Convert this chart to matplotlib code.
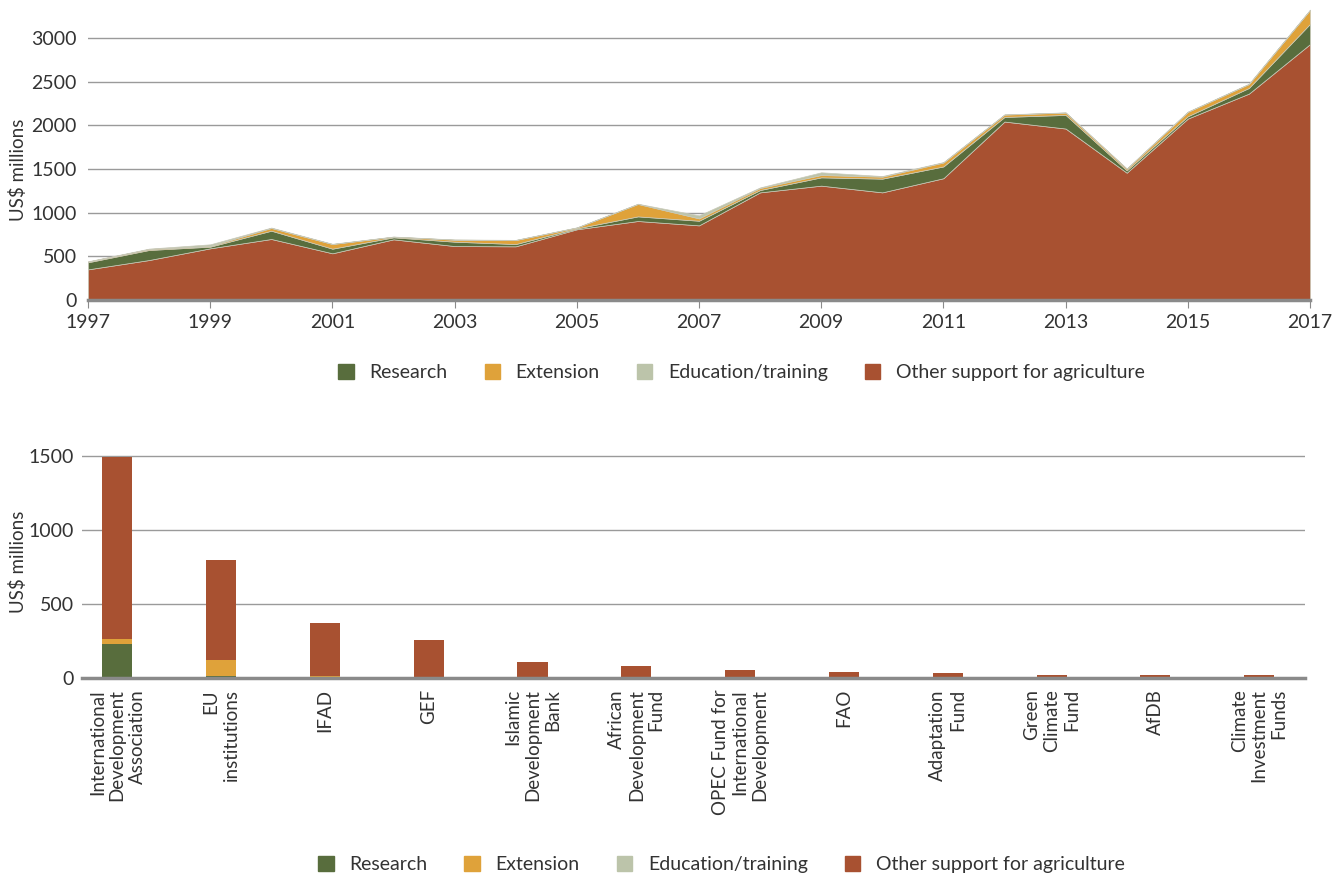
import matplotlib.pyplot as plt
from matplotlib.patches import Patch

plt.rcParams['font.family'] = ['Lato', 'DejaVu Sans']

# Top chart: yearly support by type (US$ millions)
years = list(range(1997, 2018))
other = [351, 458, 592, 699, 535, 695, 618, 615, 810, 905, 855,
         1233, 1310, 1233, 1395, 2044, 1964, 1458, 2078, 2364, 2931]
research = [81, 115, 19, 95, 53, 23, 50, 26, 10, 53, 53,
            27, 95, 157, 135, 53, 156, 27, 27, 65, 232]
extension = [8, 11, 8, 31, 53, 7, 23, 46, 10, 142, 27,
             23, 27, 23, 45, 27, 27, 19, 50, 45, 160]
education = [3, 5, 19, 5, 3, 2, 2, 2, 2, 3, 35,
             7, 31, 7, 5, 2, 2, 2, 3, 3, 3]

# Bottom chart: by institution
institutions = [
    "International\nDevelopment\nAssociation",
    "EU\ninstitutions",
    "IFAD",
    "GEF",
    "Islamic\nDevelopment\nBank",
    "African\nDevelopment\nFund",
    "OPEC Fund for\nInternational\nDevelopment",
    "FAO",
    "Adaptation\nFund",
    "Green\nClimate\nFund",
    "AfDB",
    "Climate\nInvestment\nFunds",
]
inst_research = [228, 11, 0, 0, 0, 0, 0, 0, 0, 0, 0, 0]
inst_extension = [34, 109, 11, 0, 0, 0, 0, 0, 0, 0, 0, 0]
inst_education = [0, 2, 0, 0, 0, 0, 0, 0, 0, 0, 0, 0]
inst_other = [1234, 674, 359, 255, 108, 81, 54, 41, 34, 20, 20, 20]

labels = ["Research", "Extension", "Education/training", "Other support for agriculture"]
c_research = "#586d3d"
c_extension = "#dfa23a"
c_education = "#bcc4aa"
c_other = "#a85131"
grid_c = "#9a9a9a"
text_c = "#333333"

fig = plt.figure(figsize=(13.41, 8.77), dpi=100)

# ---- top area chart
ax1 = fig.add_axes([0.0656, 0.6579, 0.9113, 0.3335])
ax1.stackplot(years, other, research, extension, education,
              colors=[c_other, c_research, c_extension, c_education],
              edgecolor="#c9c9b8", linewidth=0.5)
ax1.set_xlim(1997, 2017)
ax1.set_ylim(0, 3350)
ax1.set_xticks(range(1997, 2018, 2))
ax1.set_yticks(range(0, 3001, 500))
ax1.grid(axis="y", color=grid_c, linewidth=1)
ax1.set_axisbelow(True)
for s in ["top", "right", "left"]:
    ax1.spines[s].set_visible(False)
ax1.spines["bottom"].set_color("#8a8a8a")
ax1.spines["bottom"].set_linewidth(2.5)
ax1.tick_params(axis="y", length=0, pad=8, labelsize=14, labelcolor=text_c)
ax1.tick_params(axis="x", length=6, color="#8a8a8a", pad=4,
                labelsize=14, labelcolor=text_c)
fig.text(18 / 1341, 1 - 170 / 877, "US$ millions", rotation=90,
         ha="center", va="center", fontsize=13.5, color=text_c)

handles = [Patch(color=c) for c in [c_research, c_extension, c_education, c_other]]
fig.legend(handles, labels, loc="center", bbox_to_anchor=(0.553, 0.575),
           ncol=4, frameon=False, fontsize=14, handlelength=0.8, handleheight=0.8,
           columnspacing=1.9, handletextpad=0.8, labelcolor=text_c)

# ---- bottom stacked bars
ax2 = fig.add_axes([0.0611, 0.2269, 0.912, 0.2566])
x = list(range(len(institutions)))
w = 0.29
b1 = inst_research
b2 = [a + b for a, b in zip(b1, inst_extension)]
b3 = [a + b for a, b in zip(b2, inst_education)]
ax2.bar(x, inst_research, w, color=c_research)
ax2.bar(x, inst_extension, w, bottom=b1, color=c_extension)
ax2.bar(x, inst_education, w, bottom=b2, color=c_education)
ax2.bar(x, inst_other, w, bottom=b3, color=c_other)
ax2.set_xlim(-0.34, 11.44)
ax2.set_ylim(0, 1520)
ax2.set_yticks(range(0, 1501, 500))
ax2.set_xticks(x)
ax2.set_xticklabels(institutions, rotation=90, ha="center", va="top",
                    multialignment="right")
ax2.grid(axis="y", color=grid_c, linewidth=1)
ax2.set_axisbelow(True)
for s in ["top", "right", "left"]:
    ax2.spines[s].set_visible(False)
ax2.spines["bottom"].set_color("#8a8a8a")
ax2.spines["bottom"].set_linewidth(2.5)
ax2.tick_params(axis="y", length=0, pad=6, labelsize=14, labelcolor=text_c)
ax2.tick_params(axis="x", length=0, pad=8, labelsize=13.5, labelcolor=text_c)
fig.text(18 / 1341, 1 - 562 / 877, "US$ millions", rotation=90,
         ha="center", va="center", fontsize=13.5, color=text_c)

fig.legend(handles, labels, loc="center", bbox_to_anchor=(0.538, 0.014),
           ncol=4, frameon=False, fontsize=14, handlelength=0.8, handleheight=0.8,
           columnspacing=1.9, handletextpad=0.8, labelcolor=text_c)

fig.savefig("out.png", dpi=100)
